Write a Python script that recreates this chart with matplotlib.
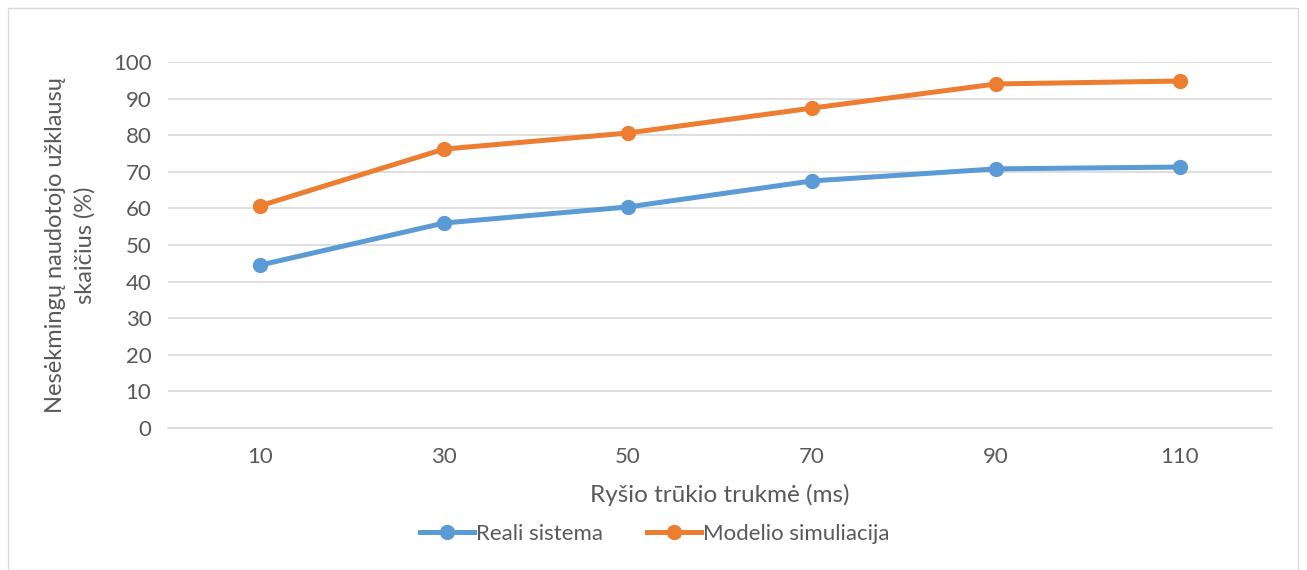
import matplotlib.pyplot as plt
from matplotlib.patches import Rectangle

categories = ["10", "30", "50", "70", "90", "110"]
reali = [44.5, 56.0, 60.4, 67.5, 70.8, 71.3]
modelis = [60.7, 76.2, 80.6, 87.4, 94.0, 94.8]

plt.rcParams['font.family'] = ['Lato', 'DejaVu Sans']
txt = '#595959'

fig = plt.figure(figsize=(13.07, 5.70), dpi=100)
ax = fig.add_axes([168/1307, 1-428/570, (1272-168)/1307, (428-62)/570])

x = list(range(len(categories)))
ax.plot(x, reali, color='#5B9BD5', lw=3.6, marker='o', ms=10, label='Reali sistema')
ax.plot(x, modelis, color='#ED7D31', lw=3.6, marker='o', ms=10, label='Modelio simuliacija')

ax.set_xlim(-0.5, len(categories) - 0.5)
ax.set_ylim(0, 100)
ax.set_yticks(range(0, 101, 10))
ax.set_xticks(x)
ax.set_xticklabels(categories)
ax.grid(axis='y', color='#D9D9D9', lw=1.2)
ax.set_axisbelow(True)
for s in ['top', 'right', 'left']:
    ax.spines[s].set_visible(False)
ax.spines['bottom'].set_color('#D9D9D9')
ax.spines['bottom'].set_linewidth(1.2)
ax.tick_params(axis='both', length=0, labelsize=16, colors=txt, pad=12)
ax.tick_params(axis='x', pad=14)

ax.set_xlabel('Ryšio trūkio trukmė (ms)', fontsize=17.5, color=txt, labelpad=12)
ax.set_ylabel('Nesėkmingų naudotojo užklausų\nskaičius (%)', fontsize=17, color=txt,
              labelpad=12, linespacing=1.5)

fig.legend(loc='center', bbox_to_anchor=(655/1307, 1-534/570), ncol=2, frameon=False,
           fontsize=16, labelcolor=txt, handlelength=2.4, handletextpad=0.1, columnspacing=2.0)

fig.patches.append(Rectangle((8/1307, 0), 1290/1307, 1-8/570, transform=fig.transFigure,
                             fill=False, edgecolor='#D9D9D9', lw=1))

fig.savefig('out.png', dpi=100)
